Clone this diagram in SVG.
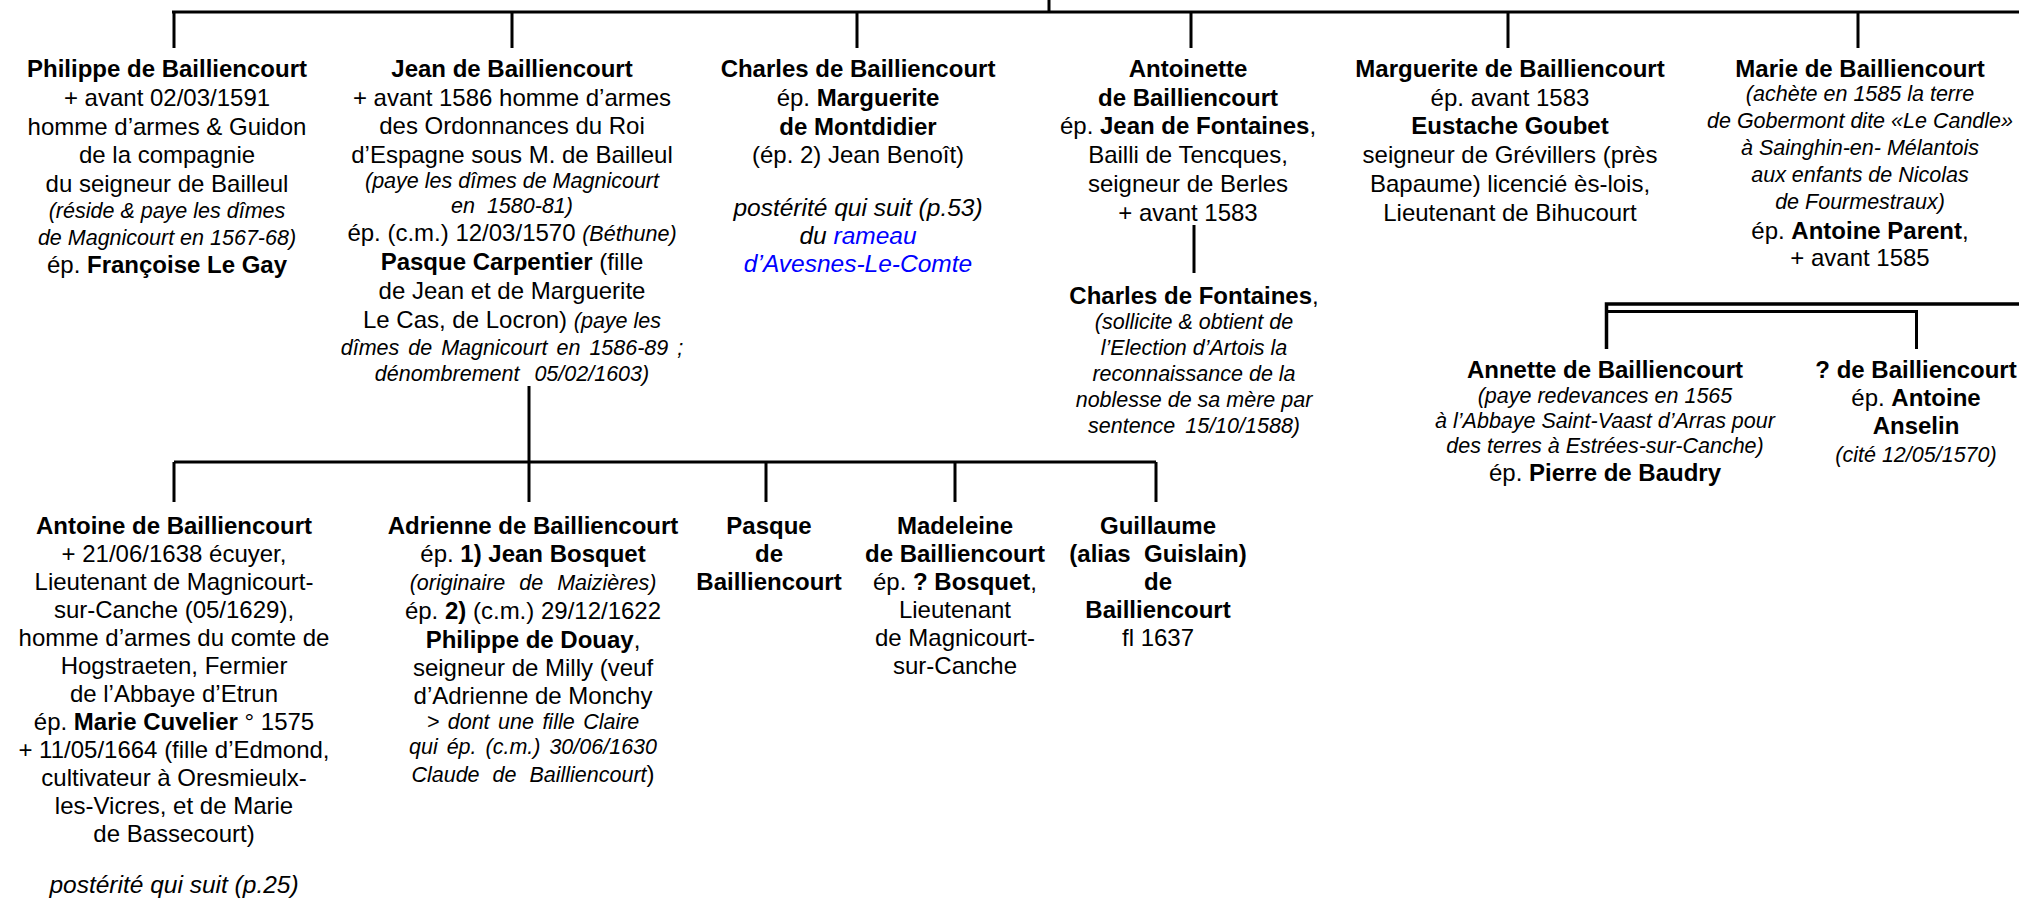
<svg xmlns="http://www.w3.org/2000/svg" width="2019" height="899" viewBox="0 0 2019 899">
<style>
text{font-family:"Liberation Sans",Arial,sans-serif;font-size:24px;fill:#000;text-anchor:middle}
.b{font-weight:bold}
.i{font-style:italic;font-size:21.5px}
.I{font-style:italic;font-size:24.5px}
.bl{fill:#0000ff}
.ln{stroke:#000;stroke-width:3;fill:none}
</style>
<rect width="2019" height="899" fill="#fff"/>
<g id="connectors" class="ln">
<path d="M1049,0V12"/>
<path d="M172,12H2019"/>
<path d="M174,12V48M512,12V48M857,12V48M1191,12V48M1508,12V48M1858,12V48"/>
<path d="M1194,225V273"/>
<path d="M529,386V502"/>
<path d="M174,462H1156"/>
<path d="M174,462V502M766,462V502M955,462V502M1156,462V502"/>
<path d="M2019,304H1606.5V349" stroke-width="3.5"/>
<path d="M1606.5,311.5H1916.5V349"/>
</g>
<g id="philippe">
<text x="167" y="77" class="b">Philippe de Bailliencourt</text>
<text x="167" y="106">+ avant 02/03/1591</text>
<text x="167" y="134.5">homme d’armes &amp; Guidon</text>
<text x="167" y="163">de la compagnie</text>
<text x="167" y="191.5">du seigneur de Bailleul</text>
<text x="167" y="218" class="i">(réside &amp; paye les dîmes</text>
<text x="167" y="244.5" class="i">de Magnicourt en 1567-68)</text>
<text x="167" y="272.5">ép. <tspan class="b">Françoise Le Gay</tspan></text>
</g>
<g id="jean">
<text x="512" y="77" class="b">Jean de Bailliencourt</text>
<text x="512" y="105.5">+ avant 1586 homme d’armes</text>
<text x="512" y="134">des Ordonnances du Roi</text>
<text x="512" y="162.5">d’Espagne sous M. de Bailleul</text>
<text x="512" y="188" class="i">(paye les dîmes de Magnicourt</text>
<text x="512" y="212.5" class="i" word-spacing="6">en 1580-81)</text>
<text x="512" y="241">ép. (c.m.) 12/03/1570 <tspan class="i">(Béthune)</tspan></text>
<text x="512" y="270"><tspan class="b">Pasque Carpentier</tspan> (fille</text>
<text x="512" y="299">de Jean et de Marguerite</text>
<text x="512" y="328">Le Cas, de Locron) <tspan class="i">(paye les</tspan></text>
<text x="512" y="354.5" class="i" word-spacing="3">dîmes de Magnicourt en 1586-89 ;</text>
<text x="512" y="381" class="i" word-spacing="9">dénombrement 05/02/1603)</text>
</g>
<g id="charles">
<text x="858" y="77" class="b">Charles de Bailliencourt</text>
<text x="858" y="106">ép. <tspan class="b">Marguerite</tspan></text>
<text x="858" y="134.5" class="b">de Montdidier</text>
<text x="858" y="163">(ép. 2) Jean Benoît)</text>
<text x="858" y="216" class="I">postérité qui suit (p.53)</text>
<text x="858" y="244" class="I">du <tspan class="bl">rameau</tspan></text>
<text x="858" y="272" class="I bl">d’Avesnes-Le-Comte</text>
</g>
<g id="antoinette">
<text x="1188" y="77" class="b">Antoinette</text>
<text x="1188" y="105.7" class="b">de Bailliencourt</text>
<text x="1188" y="134.4">ép. <tspan class="b">Jean de Fontaines</tspan>,</text>
<text x="1188" y="163">Bailli de Tencques,</text>
<text x="1188" y="191.8">seigneur de Berles</text>
<text x="1188" y="220.5">+ avant 1583</text>
</g>
<g id="charles-fontaines">
<text x="1194" y="304"><tspan class="b">Charles de Fontaines</tspan>,</text>
<text x="1194" y="329" class="i">(sollicite &amp; obtient de</text>
<text x="1194" y="355" class="i">l’Election d’Artois la</text>
<text x="1194" y="381" class="i">reconnaissance de la</text>
<text x="1194" y="407" class="i">noblesse de sa mère par</text>
<text x="1194" y="433" class="i" word-spacing="4">sentence 15/10/1588)</text>
</g>
<g id="marguerite">
<text x="1510" y="77" class="b">Marguerite de Bailliencourt</text>
<text x="1510" y="105.7">ép. avant 1583</text>
<text x="1510" y="134.4" class="b">Eustache Goubet</text>
<text x="1510" y="163">seigneur de Grévillers (près</text>
<text x="1510" y="191.8">Bapaume) licencié ès-lois,</text>
<text x="1510" y="220.5">Lieutenant de Bihucourt</text>
</g>
<g id="marie">
<text x="1860" y="77" class="b">Marie de Bailliencourt</text>
<text x="1860" y="101" class="i">(achète en 1585 la terre</text>
<text x="1860" y="128" class="i">de Gobermont dite «Le Candle»</text>
<text x="1860" y="155" class="i">à Sainghin-en- Mélantois</text>
<text x="1860" y="182" class="i">aux enfants de Nicolas</text>
<text x="1860" y="209" class="i">de Fourmestraux)</text>
<text x="1860" y="239">ép. <tspan class="b">Antoine Parent</tspan>,</text>
<text x="1860" y="266">+ avant 1585</text>
</g>
<g id="annette">
<text x="1605" y="378" class="b">Annette de Bailliencourt</text>
<text x="1605" y="403" class="i">(paye redevances en 1565</text>
<text x="1605" y="428" class="i">à l’Abbaye Saint-Vaast d’Arras pour</text>
<text x="1605" y="453" class="i">des terres à Estrées-sur-Canche)</text>
<text x="1605" y="481">ép. <tspan class="b">Pierre de Baudry</tspan></text>
</g>
<g id="inconnu">
<text x="1916" y="378" class="b">? de Bailliencourt</text>
<text x="1916" y="406">ép. <tspan class="b">Antoine</tspan></text>
<text x="1916" y="434" class="b">Anselin</text>
<text x="1916" y="462" class="i">(cité 12/05/1570)</text>
</g>
<g id="antoine">
<text x="174" y="534" class="b">Antoine de Bailliencourt</text>
<text x="174" y="562">+ 21/06/1638 écuyer,</text>
<text x="174" y="590">Lieutenant de Magnicourt-</text>
<text x="174" y="618">sur-Canche (05/1629),</text>
<text x="174" y="646">homme d’armes du comte de</text>
<text x="174" y="674">Hogstraeten, Fermier</text>
<text x="174" y="702">de l’Abbaye d’Etrun</text>
<text x="174" y="730">ép. <tspan class="b">Marie Cuvelier</tspan> ° 1575</text>
<text x="174" y="758">+ 11/05/1664 (fille d’Edmond,</text>
<text x="174" y="786">cultivateur à Oresmieulx-</text>
<text x="174" y="814">les-Vicres, et de Marie</text>
<text x="174" y="842">de Bassecourt)</text>
<text x="174" y="893" class="I">postérité qui suit (p.25)</text>
</g>
<g id="adrienne">
<text x="533" y="534" class="b">Adrienne de Bailliencourt</text>
<text x="533" y="562">ép. <tspan class="b">1) Jean Bosquet</tspan></text>
<text x="533" y="590" class="i" word-spacing="8">(originaire de Maizières)</text>
<text x="533" y="619">ép. <tspan class="b">2)</tspan> (c.m.) 29/12/1622</text>
<text x="533" y="648"><tspan class="b">Philippe de Douay</tspan>,</text>
<text x="533" y="676">seigneur de Milly (veuf</text>
<text x="533" y="704">d’Adrienne de Monchy</text>
<text x="533" y="729" class="i" word-spacing="2.5">&gt; dont une fille Claire</text>
<text x="533" y="754" class="i" word-spacing="3">qui ép. (c.m.) 30/06/1630</text>
<text x="533" y="782" word-spacing="7"><tspan class="i">Claude de Bailliencourt</tspan>)</text>
</g>
<g id="pasque">
<text x="769" y="534" class="b">Pasque</text>
<text x="769" y="562" class="b">de</text>
<text x="769" y="590" class="b">Bailliencourt</text>
</g>
<g id="madeleine">
<text x="955" y="534" class="b">Madeleine</text>
<text x="955" y="562" class="b">de Bailliencourt</text>
<text x="955" y="590">ép. <tspan class="b">? Bosquet</tspan>,</text>
<text x="955" y="618">Lieutenant</text>
<text x="955" y="646">de Magnicourt-</text>
<text x="955" y="674">sur-Canche</text>
</g>
<g id="guillaume">
<text x="1158" y="534" class="b">Guillaume</text>
<text x="1158" y="562" class="b" font-size="21.5">(alias&#160; Guislain)</text>
<text x="1158" y="590" class="b">de</text>
<text x="1158" y="618" class="b">Bailliencourt</text>
<text x="1158" y="646">fl 1637</text>
</g>
</svg>
